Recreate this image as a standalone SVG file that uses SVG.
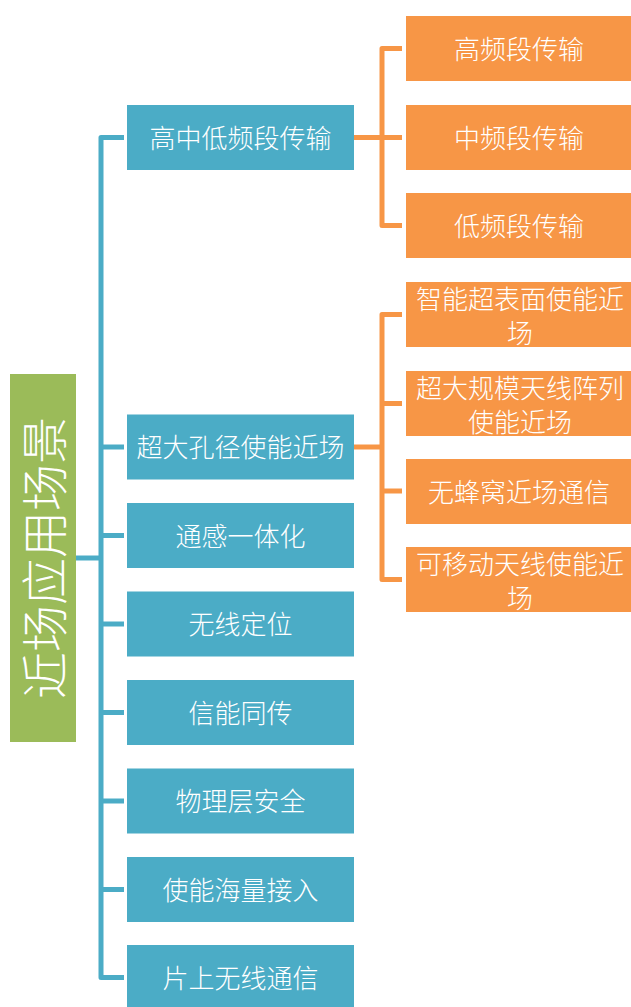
<svg xmlns="http://www.w3.org/2000/svg" width="631" height="1007" viewBox="0 0 631 1007">
  <style>
    .blue { fill: #4BACC6; }
    .orange { fill: #F79646; }
    .root { fill: #9BBB59; }
    text { fill: #FFFFFF; font-family: "Noto Sans CJK SC", "Noto Sans", sans-serif; font-weight: 200; text-anchor: middle; dominant-baseline: central; }
    .t { font-size: 26px; }
    .tr { font-size: 47px; }
    .cb { fill: none; stroke: #4BACC6; stroke-width: 5; stroke-linejoin: round; }
    .co { fill: none; stroke: #F79646; stroke-width: 5; stroke-linejoin: round; }
  </style>

  <rect width="631" height="1007" fill="#FFFFFF"/>

  <!-- connectors -->
  <g id="connectors">
    <path class="cb" d="M76,558 H101"/>
    <path class="cb" d="M124,137.5 H101 V977.5 H124"/>
    <path class="cb" d="M101,447 H124"/>
    <path class="cb" d="M101,535.5 H124"/>
    <path class="cb" d="M101,624 H124"/>
    <path class="cb" d="M101,712.5 H124"/>
    <path class="cb" d="M101,801 H124"/>
    <path class="cb" d="M101,889.5 H124"/>
    <path class="co" d="M354,137.5 H402"/>
    <path class="co" d="M402,48.5 H382 V225.5 H402"/>
    <path class="co" d="M354,447 H382"/>
    <path class="co" d="M402,314.5 H382 V579.5 H402"/>
    <path class="co" d="M382,403.5 H402"/>
    <path class="co" d="M382,491 H402"/>
  </g>

  <!-- root -->
  <g id="root">
    <rect class="root" x="10" y="374" width="66" height="368"/>
    <text class="tr" transform="translate(41,558) rotate(-90)">近场应用场景</text>
  </g>

  <!-- first level -->
  <g id="n-hml">
    <rect class="blue" x="127" y="105" width="227" height="65"/>
    <text class="t" x="240.5" y="136">高中低频段传输</text>
  </g>
  <g id="n-aperture">
    <rect class="blue" x="127" y="414.5" width="227" height="65"/>
    <text class="t" x="240.5" y="445.5">超大孔径使能近场</text>
  </g>
  <g id="n-isac">
    <rect class="blue" x="127" y="503" width="227" height="65"/>
    <text class="t" x="240.5" y="534">通感一体化</text>
  </g>
  <g id="n-loc">
    <rect class="blue" x="127" y="591.5" width="227" height="65"/>
    <text class="t" x="240.5" y="622.5">无线定位</text>
  </g>
  <g id="n-swipt">
    <rect class="blue" x="127" y="680" width="227" height="65"/>
    <text class="t" x="240.5" y="711">信能同传</text>
  </g>
  <g id="n-pls">
    <rect class="blue" x="127" y="768.5" width="227" height="65"/>
    <text class="t" x="240.5" y="799.5">物理层安全</text>
  </g>
  <g id="n-access">
    <rect class="blue" x="127" y="857" width="227" height="65"/>
    <text class="t" x="240.5" y="888">使能海量接入</text>
  </g>
  <g id="n-onchip">
    <rect class="blue" x="127" y="945" width="227" height="65"/>
    <text class="t" x="240.5" y="976">片上无线通信</text>
  </g>

  <!-- second level: frequency bands -->
  <g id="n-high">
    <rect class="orange" x="406" y="16" width="230" height="65"/>
    <text class="t" x="519" y="47">高频段传输</text>
  </g>
  <g id="n-mid">
    <rect class="orange" x="406" y="105" width="230" height="65"/>
    <text class="t" x="519" y="136">中频段传输</text>
  </g>
  <g id="n-low">
    <rect class="orange" x="406" y="193" width="230" height="65"/>
    <text class="t" x="519" y="224">低频段传输</text>
  </g>

  <!-- second level: large aperture -->
  <g id="n-ris">
    <rect class="orange" x="406" y="282" width="230" height="65"/>
    <text class="t" x="520" y="297">智能超表面使能近</text>
    <text class="t" x="520" y="331">场</text>
  </g>
  <g id="n-xlmimo">
    <rect class="orange" x="406" y="371" width="230" height="65"/>
    <text class="t" x="520" y="386">超大规模天线阵列</text>
    <text class="t" x="520" y="420">使能近场</text>
  </g>
  <g id="n-cellfree">
    <rect class="orange" x="406" y="459" width="230" height="65"/>
    <text class="t" x="519" y="490">无蜂窝近场通信</text>
  </g>
  <g id="n-movable">
    <rect class="orange" x="406" y="547" width="230" height="65"/>
    <text class="t" x="520" y="562">可移动天线使能近</text>
    <text class="t" x="520" y="596">场</text>
  </g>
</svg>
